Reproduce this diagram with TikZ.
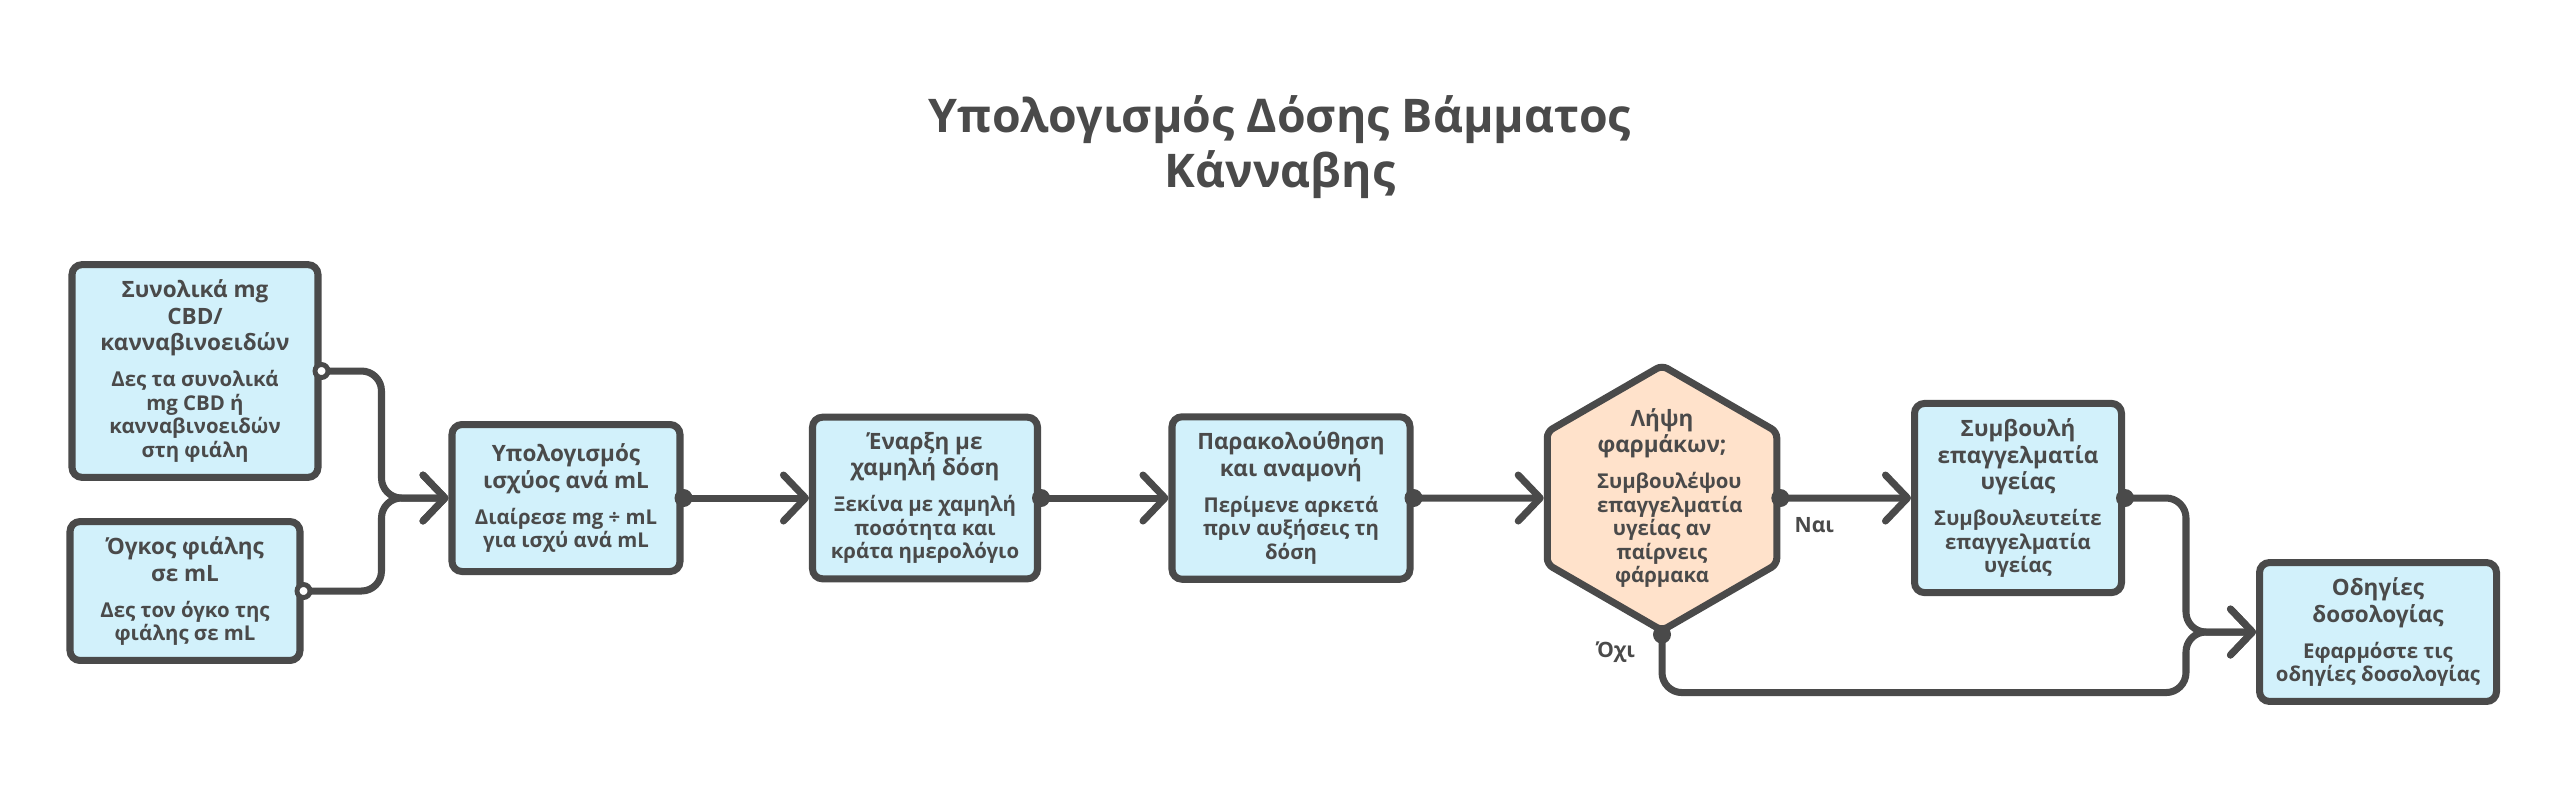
\documentclass[tikz,border=0pt]{standalone}
\usepackage{fontspec}
\setmainfont{Open Sans}
\newcommand{\semibold}{\bfseries}
\usetikzlibrary{arrows.meta,calc}
\usetikzlibrary{shapes.geometric,positioning}

\definecolor{ink}{HTML}{4A4A4A}
\definecolor{skyfill}{HTML}{D2F1FB}
\definecolor{peachfill}{HTML}{FFE2CB}

\tikzstyle{flow} = [draw=ink, line width=2pt, rounded corners=0.2cm, line cap=round, ->]

% title lines, then the smaller explanation below them
\newcommand{\stepText}[2]{\centering\spaceskip=0pt\xspaceskip=0pt\relax
    {\bfseries\fontsize{6.4}{7.6}\selectfont #1\par}\vspace{3.5pt}%
    {\semibold\fontsize{5.8}{6.7}\selectfont #2\par}}

\begin{document}
\begin{tikzpicture}[
            > = {Straight Barb[round, length=2.2mm, width=4.6mm]}, % open chevron heads
            node distance = 3.6cm, % distance between box centres
            auto,
            line width = 2pt
        ]

        \useasboundingbox (0,0) rectangle (25.6,-7.93);

        \tikzstyle{every node}=[text=ink]
        \tikzstyle{stepbox}=[
            draw = ink,
            line width = 2pt,
            fill = skyfill,
            rounded corners = 0.1cm,
            align = center,
            inner sep = 0.15cm
        ]
        \tikzstyle{check}=[
            stepbox,
            fill = peachfill,
            rounded corners = 0.06cm,
            regular polygon,
            regular polygon sides = 6,
            shape border rotate = 90,
            inner sep = -0.14cm,
            minimum size = 2.65cm,
            text width = 1.3cm
        ]
        \tikzstyle{dot}=[circle, fill=ink, inner sep=0pt, minimum size=0.18cm]
        \tikzstyle{odot}=[circle, draw=ink, fill=white, line width=1.4pt, inner sep=0pt, minimum size=0.13cm]
        \tikzstyle{answer}=[font=\semibold\fontsize{6}{7}\selectfont, inner sep=1pt]

        \node[align=center, font=\bfseries\fontsize{13.2}{15.6}\selectfont] (title) at (12.8,-1.47)
            {Υπολογισμός Δόσης Βάμματος\\Κάνναβης};

        \node[stepbox, text width=2.16cm] (total) at (1.95,-3.71)
            {\stepText{Συνολικά mg\\CBD/\\κανναβινοειδών}{Δες τα συνολικά\\mg CBD ή\\κανναβινοειδών\\στη φιάλη}};
        \node[stepbox, text width=2.0cm] (volume) at (1.85,-5.91)
            {\stepText{Όγκος φιάλης\\σε mL}{Δες τον όγκο της\\φιάλης σε mL}};
        \node[stepbox, text width=1.98cm, minimum height=1.47cm] (calc) at (5.66,-4.98)
            {\stepText{Υπολογισμός\\ισχύος ανά mL}{Διαίρεσε mg ÷ mL\\για ισχύ ανά mL}};
        \node[stepbox, text width=1.95cm] (start) [right of=calc, node distance=3.59cm]
            {\stepText{Έναρξη με\\χαμηλή δόση}{Ξεκίνα με χαμηλή\\ποσότητα και\\κράτα ημερολόγιο}};
        \node[stepbox, text width=2.08cm] (monitor) [right of=start, node distance=3.66cm]
            {\stepText{Παρακολούθηση\\και αναμονή}{Περίμενε αρκετά\\πριν αυξήσεις τη\\δόση}};
        \node[check] (meds) [right of=monitor, node distance=3.71cm]
            {\stepText{Λήψη\\φαρμάκων;}{Συμβουλέψου\\επαγγελματία\\υγείας αν\\παίρνεις\\φάρμακα}};
        \node[stepbox, text width=1.77cm] (consult) [right of=meds, node distance=3.56cm]
            {\stepText{Συμβουλή\\επαγγελματία\\υγείας}{Συμβουλευτείτε\\επαγγελματία\\υγείας}};
        \node[stepbox, text width=2.07cm] (guide) [right of=consult, node distance=3.6cm, yshift=-1.34cm]
            {\stepText{Οδηγίες\\δοσολογίας}{Εφαρμόστε τις\\οδηγίες δοσολογίας}};

        \coordinate (join1) at ($(calc.west)+(-0.67,0)$);
        \coordinate (join2) at ($(guide.west)+(-0.7,0)$);
        \coordinate (low) at ($(meds.south)+(0,-0.58)$);

        \draw[flow] (total.east) -| (join1) -- (calc.west);
        \draw[flow] (volume.east) -| (join1) -- (calc.west);
        \draw[flow] (calc.east) -- (start.west);
        \draw[flow] (start.east) -- (monitor.west);
        \draw[flow] (monitor.east) -- (meds.west);
        \draw[flow] (meds.east) -- node[answer, pos=0.26, below=0.12cm] (yes) {Ναι} (consult.west);
        \draw[flow] (meds.south) -- node[answer, pos=0.3, left=0.2cm] (no) {Όχι} (low) -| (join2) -- (guide.west);
        \draw[flow] (consult.east) -| (join2) -- (guide.west);

        \node[odot] (o1) at (total.east) {};
        \node[odot] (o2) at (volume.east) {};
        \node[dot] (d1) at (calc.east) {};
        \node[dot] (d2) at (start.east) {};
        \node[dot] (d3) at (monitor.east) {};
        \node[dot] (d4) at (meds.east) {};
        \node[dot] (d5) at (meds.south) {};
        \node[dot] (d6) at (consult.east) {};

    \end{tikzpicture}
\end{document}
